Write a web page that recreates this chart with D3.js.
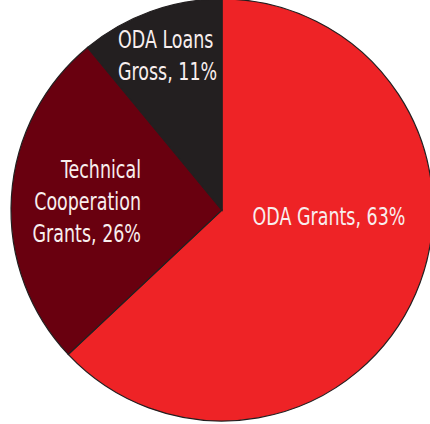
<!DOCTYPE html>
<html>
<head>
<meta charset="utf-8">
<script src="https://cdn.jsdelivr.net/npm/d3@7"></script>
<style>
  html, body { margin: 0; padding: 0; background: #ffffff; }
  svg { display: block; }
</style>
</head>
<body>
<svg id="chart" width="430" height="424"></svg>
<script>
// Composition of official development assistance
const categories = ["ODA Grants", "Technical Cooperation Grants", "ODA Loans Gross"];
const shares = [63, 26, 11];
const colors = ["#ee2326", "#69000f", "#231f20"];
// Label lines for each slice
const labelLines = [
  ["ODA Grants, 63%"],
  ["Technical", "Cooperation", "Grants, 26%"],
  ["ODA Loans", "Gross, 11%"]
];

const svg = d3.select("#chart");
const cx = 222, cy = 210, r = 211;

const pie = d3.pie().sort(null).value(d => d)(shares);
const arc = d3.arc().innerRadius(0).outerRadius(r);

const g = svg.append("g").attr("transform", `translate(${cx},${cy})`);

g.selectAll("path.slice")
  .data(pie)
  .join("path")
  .attr("class", "slice")
  .attr("d", arc)
  .attr("fill", (d, i) => colors[i])
  .attr("stroke", "#231f20")
  .attr("stroke-width", 1.2);

// Label anchors and alignment per slice; text is narrowed horizontally
const labelPos = [
  { x: 329, y: 225, anchor: "middle" },
  { x: 141, y: 178, anchor: "end" },
  { x: 118, y: 48, anchor: "start" }
];
const lineHeight = 32;
const narrow = 0.81;

labelLines.forEach((lines, i) => {
  const p = labelPos[i];
  const t = svg.append("text")
    .attr("transform", `translate(${p.x},${p.y}) scale(${narrow},1)`)
    .attr("text-anchor", p.anchor)
    .attr("fill", "#f8eeee")
    .style("font-family", "'DejaVu Sans Condensed', 'DejaVu Sans', sans-serif")
    .style("font-size", "24px");
  lines.forEach((ln, j) => {
    t.append("tspan")
      .attr("x", 0)
      .attr("y", j * lineHeight)
      .text(ln);
  });
});
</script>
</body>
</html>
